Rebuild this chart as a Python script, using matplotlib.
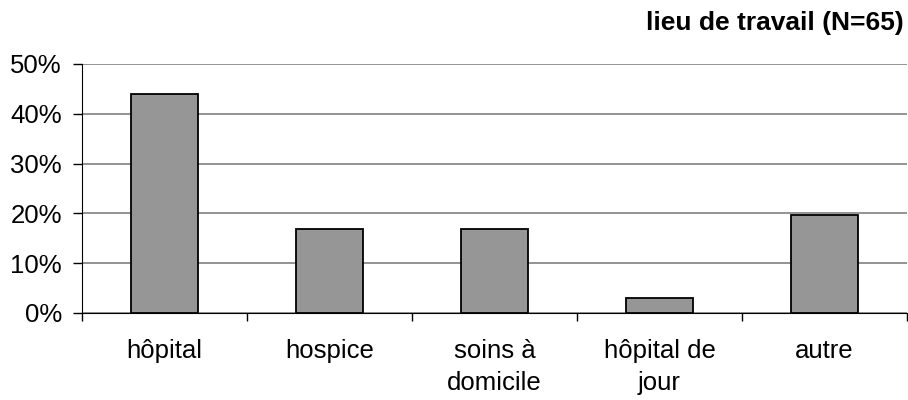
import matplotlib
matplotlib.use("Agg")
import matplotlib.pyplot as plt
from matplotlib.ticker import FixedLocator, PercentFormatter

categories = ["hôpital", "hospice", "soins à\ndomicile", "hôpital de\njour", "autre"]
shares = [44.0, 16.9, 16.9, 3.1, 19.7]
yticks = [0, 10, 20, 30, 40, 50]

plt.rcParams["font.family"] = ["Liberation Sans", "DejaVu Sans"]

fig = plt.figure(figsize=(9.08, 4.0), dpi=100)
ax = fig.add_axes([82 / 908, 1 - 313 / 400, 825 / 908, 249 / 400])

x = range(len(categories))
ax.bar(x, shares, width=0.41, color="#969696", edgecolor="black", linewidth=1.3, zorder=3)

ax.set_xlim(-0.5, len(categories) - 0.5)
ax.set_ylim(0, 50)
ax.set_yticks(yticks)
ax.yaxis.set_major_formatter(PercentFormatter(decimals=0))
ax.grid(axis="y", color="#808080", linewidth=1.2, zorder=0)

# category labels centred, tick marks on the boundaries between categories
ax.set_xticks(list(x))
ax.set_xticklabels(categories, fontsize=18.5, linespacing=1.4, va="top")
ax.tick_params(axis="x", length=0, pad=19)
ax.xaxis.set_minor_locator(FixedLocator([i + 0.5 for i in range(-1, len(categories))]))
ax.tick_params(axis="x", which="minor", length=6, width=1, color="black")
ax.tick_params(axis="y", labelsize=18.5, length=6.5, width=1, pad=8)

for s in ["top", "right"]:
    ax.spines[s].set_visible(False)
ax.spines["left"].set_color("black")
ax.spines["bottom"].set_color("black")

fig.text(904 / 908, 1 - 30 / 400, "lieu de travail (N=65)", ha="right", va="baseline",
         fontsize=19, fontweight="bold")

fig.savefig("out.png", dpi=100)
